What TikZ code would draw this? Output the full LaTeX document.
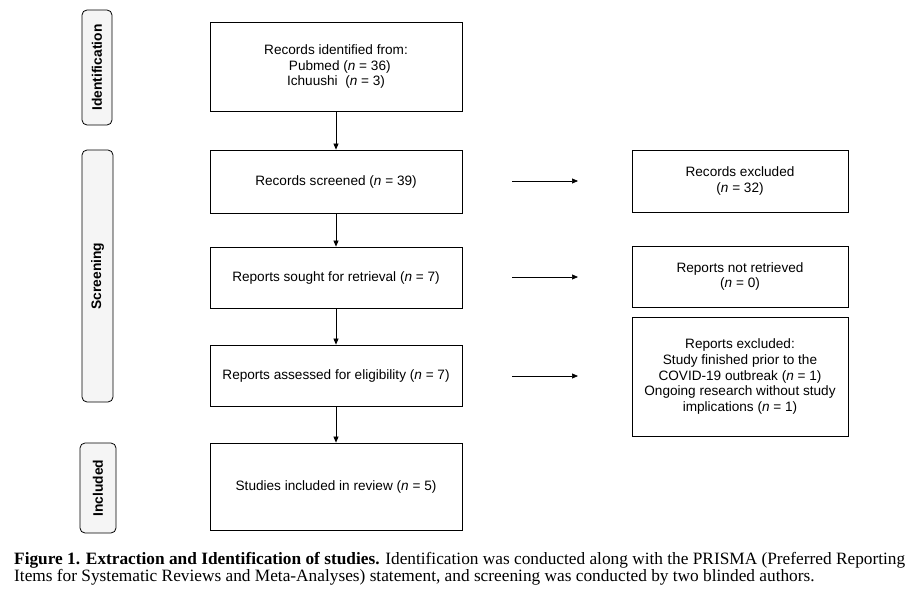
\documentclass[tikz,border=0pt]{standalone}
\usepackage{fontspec}
\setmainfont{Liberation Sans}
\newfontfamily\capfont{Liberation Serif}
\usetikzlibrary{arrows.meta}
\begin{document}
\begin{tikzpicture}[x=1pt,y=-1pt,
  font=\fontsize{13.6}{15.6}\selectfont,
  flowbox/.style={draw, line width=0.8pt, align=center, inner sep=0pt, minimum width=252pt},
  sidebox/.style={draw, line width=0.8pt, rounded corners=5pt, fill=gray!8, inner sep=0pt},
  sidetext/.style={rotate=90, font=\fontsize{13.8}{15}\selectfont\bfseries},
  arr/.style={line width=0.7pt, -{Triangle[length=6pt,width=5pt]}},
  capline/.style={anchor=base west, inner sep=0pt, font=\capfont\fontsize{17.3}{17}\selectfont}]
\useasboundingbox (0,0) rectangle (917,599);

% side labels
\node[sidebox, minimum width=30pt, minimum height=115pt] (s1) at (97,67.5) {};
\node[sidetext] at (s1) {Identification};
\node[sidebox, minimum width=31pt, minimum height=252pt] (s2) at (97.5,276) {};
\node[sidetext] at (s2) {Screening};
\node[sidebox, minimum width=36pt, minimum height=90pt] (s3) at (98,488) {};
\node[sidetext] at (s3) {Included};

% main column
\node[flowbox, minimum height=89pt] (b1) at (336,66.5) {Records identified from:\\ \ \ Pubmed (\textit{n} = 36)\\ Ichuushi\ \ (\textit{n} = 3)};
\node[flowbox, minimum height=63pt] (b2) at (336,181.5) {Records screened (\textit{n} = 39)};
\node[flowbox, minimum height=61pt] (b3) at (336,277.5) {Reports sought for retrieval (\textit{n} = 7)};
\node[flowbox, minimum height=61pt] (b4) at (336,375.5) {Reports assessed for eligibility (\textit{n} = 7)};
\node[flowbox, minimum height=87pt] (b5) at (336,486.5) {Studies included in review (\textit{n} = 5)};

% right column
\node[flowbox, minimum width=216pt, minimum height=62pt] (r1) at (740,181) {Records excluded\\(\textit{n} = 32)};
\node[flowbox, minimum width=216pt, minimum height=61pt] (r2) at (740,276.5) {Reports not retrieved\\(\textit{n} = 0)};
\node[flowbox, minimum width=216pt, minimum height=119pt] (r3) at (740,376.5) {Reports excluded:\\Study finished prior to the\\COVID-19 outbreak (\textit{n} = 1)\\Ongoing research without study\\implications (\textit{n} = 1)};

% vertical arrows
\draw[arr] (b1.south) -- (b2.north);
\draw[arr] (b2.south) -- (b3.north);
\draw[arr] (b3.south) -- (b4.north);
\draw[arr] (b4.south) -- (b5.north);

% horizontal arrows
\coordinate (h1a) at (512,181); \coordinate (h1b) at (578,181);
\coordinate (h2a) at (512,277); \coordinate (h2b) at (578,277);
\coordinate (h3a) at (512,376); \coordinate (h3b) at (578,376);
\draw[arr] (h1a) -- (h1b);
\draw[arr] (h2a) -- (h2b);
\draw[arr] (h3a) -- (h3b);

% caption
\node[capline] (c1) at (14,564) {\textbf{Figure 1. Extraction and Identification of studies.} Identification was conducted along with the PRISMA (Preferred Reporting};
\node[capline] (c2) at (14,581) {Items for Systematic Reviews and Meta-Analyses) statement, and screening was conducted by two blinded authors.};
\end{tikzpicture}
\end{document}
